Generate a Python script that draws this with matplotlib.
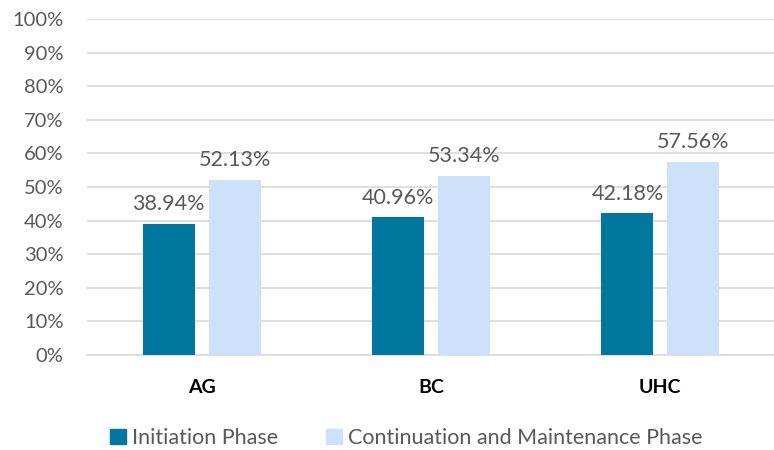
import matplotlib
matplotlib.use("Agg")
import matplotlib.pyplot as plt
import numpy as np
from matplotlib.patches import Patch

categories = ["AG", "BC", "UHC"]
initiation = [38.94, 40.96, 42.18]
continuation = [52.13, 53.34, 57.56]
series_names = ["Initiation Phase", "Continuation and Maintenance Phase"]
yticks = list(range(0, 101, 10))

dark = "#00779F"
light = "#CCE1FA"
text_gray = "#595959"

plt.rcParams["font.family"] = ["Lato", "DejaVu Sans"]

fig = plt.figure(figsize=(7.74, 4.5), dpi=100)
ax = fig.add_axes([87 / 774, 1 - 355 / 450, (775 - 87) / 774, (355 - 19) / 450])

x = np.arange(len(categories))
w = 0.227
off = 0.1435
b1 = ax.bar(x - off, initiation, w, color=dark, zorder=3)
b2 = ax.bar(x + off, continuation, w, color=light, zorder=3)

for bars, vals in ((b1, initiation), (b2, continuation)):
    for r, v in zip(bars, vals):
        ax.annotate(f"{v:.2f}%", (r.get_x() + r.get_width() / 2, v),
                    xytext=(0, 7), textcoords="offset points",
                    ha="center", va="bottom", fontsize=15.5, color=text_gray)

ax.set_xlim(-0.5, len(categories) - 0.5)
ax.set_ylim(0, 100)
ax.set_yticks(yticks)
ax.set_yticklabels([f"{t}%" for t in yticks], fontsize=14.5, color=text_gray)
ax.set_xticks(x)
ax.set_xticklabels(categories, fontsize=14, fontweight="bold", color="black")
ax.tick_params(axis="y", length=0, pad=17)
ax.tick_params(axis="x", length=0, pad=17)
ax.grid(axis="y", color="#D9D9D9", linewidth=1.2, zorder=0)
for s in ["top", "right", "left"]:
    ax.spines[s].set_visible(False)
ax.spines["bottom"].set_color("#D9D9D9")
ax.spines["bottom"].set_linewidth(1.2)

handles = [Patch(color=dark), Patch(color=light)]
fig.legend(handles, series_names, loc="center", bbox_to_anchor=(0.525, 1 - 438 / 450),
           ncol=2, frameon=False, fontsize=15.5, handlelength=0.75, handleheight=0.75,
           handletextpad=0.3, columnspacing=2.2, labelcolor=text_gray)

fig.savefig("out.png", dpi=100)
